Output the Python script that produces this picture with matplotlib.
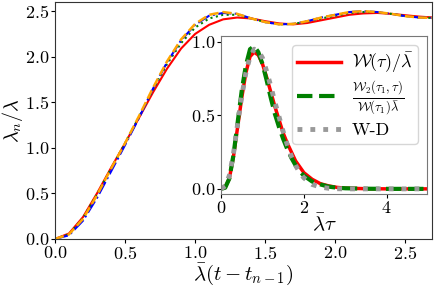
import matplotlib
matplotlib.use("Agg")
import matplotlib.pyplot as plt

plt.rcParams['font.family'] = ['cmr10', 'DejaVu Serif']
plt.rcParams['mathtext.fontset'] = 'cm'
plt.rcParams['axes.formatter.use_mathtext'] = True
plt.rcParams['font.size'] = 13

# main panel data
t = [0.0, 0.1, 0.2, 0.3, 0.4, 0.5, 0.6, 0.7, 0.8, 0.9, 1.0, 1.1, 1.2, 1.3,
     1.4, 1.5, 1.6, 1.7, 1.8, 1.9, 2.0, 2.1, 2.2, 2.3, 2.4, 2.5, 2.6, 2.7]
lam_red = [0.0, 0.06, 0.24, 0.50, 0.78, 1.05, 1.33, 1.61, 1.87, 2.09, 2.25, 2.35,
           2.41, 2.43, 2.42, 2.39, 2.365, 2.355, 2.37, 2.40, 2.43, 2.46, 2.475,
           2.48, 2.47, 2.455, 2.44, 2.43]
lam_green = [0.0, 0.05, 0.23, 0.49, 0.77, 1.05, 1.34, 1.64, 1.92, 2.15, 2.32, 2.42,
             2.46, 2.46, 2.42, 2.38, 2.355, 2.36, 2.385, 2.42, 2.45, 2.48, 2.49,
             2.49, 2.47, 2.445, 2.43, 2.425]
lam_blue = [0.0, 0.04, 0.20, 0.45, 0.74, 1.03, 1.33, 1.65, 1.94, 2.18, 2.35, 2.45,
            2.48, 2.47, 2.42, 2.38, 2.355, 2.36, 2.39, 2.43, 2.46, 2.49, 2.50,
            2.49, 2.47, 2.445, 2.43, 2.425]
lam_orange = [0.0, 0.05, 0.22, 0.48, 0.77, 1.05, 1.35, 1.66, 1.95, 2.19, 2.36, 2.46,
              2.49, 2.47, 2.42, 2.38, 2.355, 2.36, 2.39, 2.43, 2.46, 2.49, 2.50,
              2.49, 2.47, 2.445, 2.43, 2.425]

# inset data
tau = [0.0, 0.1, 0.2, 0.3, 0.4, 0.5, 0.6, 0.7, 0.8, 0.9, 1.0, 1.1, 1.2, 1.3, 1.4,
       1.5, 1.6, 1.7, 1.8, 1.9, 2.0, 2.2, 2.4, 2.6, 2.8, 3.0, 3.5, 4.0, 4.5, 5.0]
w_red = [0.0, 0.01, 0.07, 0.22, 0.42, 0.62, 0.79, 0.90, 0.93, 0.91, 0.85, 0.76,
         0.66, 0.56, 0.47, 0.38, 0.31, 0.25, 0.19, 0.15, 0.11, 0.065, 0.035,
         0.02, 0.01, 0.005, 0.001, 0.0, 0.0, 0.0]
w_green = [0.0, 0.008, 0.07, 0.23, 0.45, 0.67, 0.84, 0.95, 0.97, 0.93, 0.85, 0.74,
           0.62, 0.51, 0.42, 0.34, 0.27, 0.21, 0.16, 0.12, 0.09, 0.05, 0.03,
           0.015, 0.008, 0.004, 0.001, 0.0, 0.0, 0.0]
w_grey = [0.0, 0.02, 0.09, 0.24, 0.44, 0.63, 0.79, 0.90, 0.95, 0.94, 0.89, 0.80,
          0.70, 0.59, 0.49, 0.39, 0.30, 0.22, 0.16, 0.11, 0.075, 0.03, 0.012,
          0.004, 0.001, 0.0, 0.0, 0.0, 0.0, 0.0]

fig = plt.figure(figsize=(4.36, 2.90), dpi=100)
ax = fig.add_axes([0.126, 0.176, 0.865, 0.817])
ax.plot(t, lam_red, color='red', lw=1.5, ls='-')
ax.plot(t, lam_green, color='green', lw=1.5, ls=':')
ax.plot(t, lam_blue, color='blue', lw=1.5, ls='-.')
ax.plot(t, lam_orange, color='orange', lw=1.8, ls='--')
ax.set_xlim(0, 2.69)
ax.set_ylim(0, 2.6)
ax.set_xticks([0.0, 0.5, 1.0, 1.5, 2.0, 2.5])
ax.set_yticks([0.0, 0.5, 1.0, 1.5, 2.0, 2.5])
ax.set_xlabel(r'$\bar{\lambda}(t-t_{n-1})$', fontsize=15, labelpad=0)
ax.set_ylabel(r'$\lambda_n/\bar{\lambda}$', fontsize=14.5)
ax.yaxis.set_label_coords(-0.078, 0.5)
ax.tick_params(labelsize=13, length=3, pad=1)
for s in ax.spines.values():
    s.set_color('#333333')

ins = fig.add_axes([0.507, 0.331, 0.472, 0.545])
ins.plot(tau, w_red, color='red', lw=2.5, ls='-', label=r'$\mathcal{W}(\tau)/\bar{\lambda}$')
ins.plot(tau, w_green, color='green', lw=3, ls='--',
         label=r'$\frac{\mathcal{W}_2(\tau_1,\tau)}{\mathcal{W}(\tau_1)\bar{\lambda}}$')
ins.plot(tau, w_grey, color='#999999', lw=3.5, ls=':', label='W-D')
ins.set_xlim(0, 4.97)
ins.set_ylim(-0.035, 1.04)
ins.set_xticks([0, 2, 4])
ins.set_yticks([0.0, 0.5, 1.0])
ins.set_xlabel(r'$\bar{\lambda}\tau$', fontsize=15, labelpad=-2)
ins.tick_params(labelsize=13, length=3, pad=1)
for s in ins.spines.values():
    s.set_color('#777777')
leg = ins.legend(loc='upper right', fontsize=13, handlelength=2.4, framealpha=0.8,
                 borderpad=0.3, labelspacing=0.25, handletextpad=0.6)

fig.savefig('out.png', dpi=100)
